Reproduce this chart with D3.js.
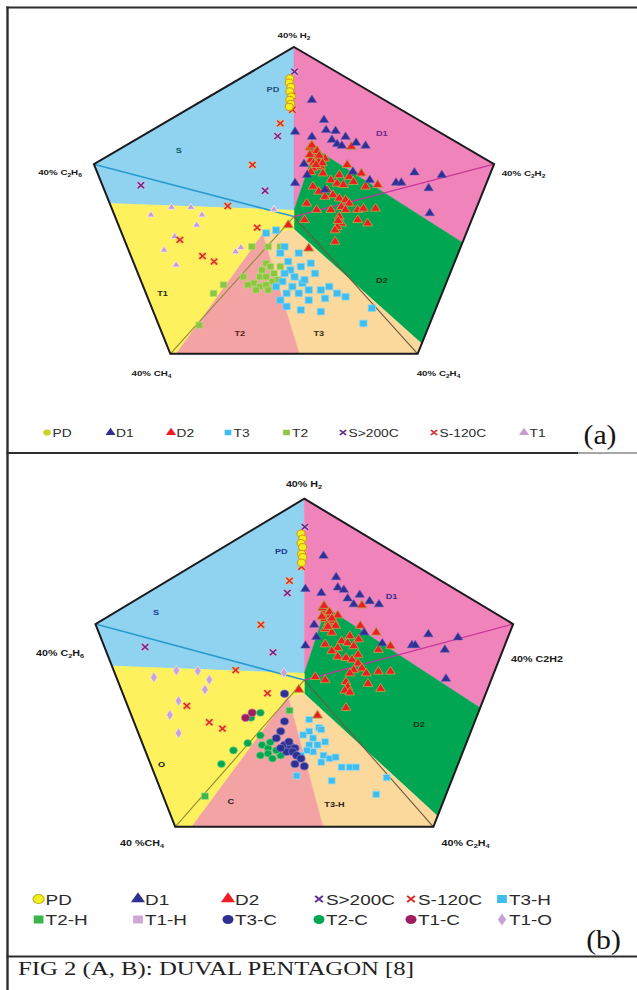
<!DOCTYPE html>
<html>
<head>
<meta charset="utf-8">
<script src="https://cdn.jsdelivr.net/npm/d3@7"></script>
<style>
  html, body { margin: 0; padding: 0; background: #fff; }
  svg { display: block; }
</style>
</head>
<body>
<svg id="fig" width="637" height="990"></svg>
<script>
// ---------------------------------------------------------------
// Duval pentagon geometry (pentagon units, H2 apex at (0,40))
// ---------------------------------------------------------------
const gasLabelsA = ["40% H_2", "40% C_2H_2", "40% C_2H_4", "40% CH_4", "40% C_2H_6"];
const gasLabelsB = ["40% H_2", "40% C2H2", "40% C_2H_4", "40 %CH_4", "40% C_2H_6"];
const vertices = [[0, 40], [38.04, 12.36], [23.51, -32.36], [-23.51, -32.36], [-38.04, 12.36]];

// Pentagon 1 zones
const zoneS  = [[0, 1.5], [-35, 3.1], [-38.04, 12.36], [0, 40]];
const zoneD1 = [[0, 40], [38.04, 12.36], [32, -6.1], [4, 16], [0, 1.5]];
const zoneD2 = [[4, 16], [32, -6.1], [24.3, -30], [0, -3], [0, 1.5]];
const zoneT3 = [[0, -3], [24.3, -30], [23.51, -32.36], [1, -32.36], [-6, -4]];
const zoneT2 = [[-6, -4], [1, -32.36], [-22.5, -32.36]];
const zoneT1 = [[-6, -4], [-22.5, -32.36], [-23.51, -32.36], [-35, 3.1], [0, 1.5], [0, -3]];
// Pentagon 2 zones (S, D1, D2 shared)
const zoneT3H = [[0, -3], [24.3, -30], [23.51, -32.36], [3.4, -32.36], [-3, -3.5]];
const zoneC   = [[-3, -3.5], [3.4, -32.36], [-20.6, -32.36]];
const zoneO   = [[-3, -3.5], [-20.6, -32.36], [-23.51, -32.36], [-35, 3.1], [0, 1.5], [0, -3]];

const zoneNamesA = ["PD", "S", "D1", "D2", "T1", "T2", "T3"];
const zoneLabelPosA = [[-4.0, 30.0], [-21.9, 15.7], [16.7, 19.6], [16.7, -15.1], [-25.0, -18.1], [-10.3, -27.5], [4.7, -27.5]];
const zoneNamesB = ["PD", "S", "D1", "D2", "O", "C", "T3-H"];
const zoneLabelPosB = [[-4.2, 28.4], [-27.0, 14.9], [15.9, 18.4], [20.9, -9.8], [-26.0, -18.5], [-13.4, -26.8], [5.5, -27.5]];

// ---------------------------------------------------------------
// Fault cases, pentagon (a)
// ---------------------------------------------------------------
const pdA = [[-0.8, 32.6], [-0.9, 31.6], [-0.6, 30.6], [-0.8, 29.5], [-0.5, 28.3], [-0.8, 27.5], [-0.6, 26.6], [-0.9, 25.9]];
const d1A = [[3.4, 27.5], [5.7, 22.8], [6.1, 20.4], [7.9, 20.2], [9.8, 18.8], [11.8, 17.4], [13.6, 16.7], [7.2, 18.1],
  [8.2, 17.1], [9.1, 16.7], [3.4, 18.8], [0.2, 20.0], [1.9, 12.4], [2.5, 9.8], [0.2, 7.9], [11.2, 10.6], [14.4, 8.6],
  [19.4, 8.0], [20.4, 8.0], [22.9, 10.4], [28.1, 9.8], [25.6, 6.7], [25.8, 0.8], [5.9, 6.3]];
const d2A = [[10.9, 16.5], [3.6, 15.7], [4.0, 14.9], [4.3, 14.1], [3.2, 13.4], [3.7, 12.6], [4.7, 13.0], [5.1, 11.8],
  [3.6, 11.4], [5.9, 13.7], [5.5, 10.2], [3.0, 16.3], [3.4, 16.8], [4.4, 15.5], [3.0, 14.6], [4.8, 14.4], [5.4, 12.6],
  [4.2, 12.2], [3.2, 10.5], [10.1, 12.2], [12.8, 10.2], [8.6, 9.8], [10.5, 9.4], [7.0, 8.6], [8.2, 7.8], [9.4, 7.5],
  [6.3, 6.3], [3.6, 7.1], [4.7, 5.9], [5.9, 4.7], [7.4, 5.1], [8.6, 4.3], [9.8, 3.9], [10.5, 3.1], [9.0, 2.3],
  [9.8, 1.6], [12.1, 1.6], [13.2, 1.9], [15.5, 1.9], [2.4, 3.1], [4.3, 1.6], [7.0, 1.6], [8.6, 0.0], [9.0, -1.6],
  [8.2, -2.4], [7.8, -3.2], [8.4, -1.0], [12.1, -0.8], [14.0, -1.6], [2.0, -0.8], [-1.1, -2.0], [7.8, -5.9],
  [2.8, -7.5], [11.3, 8.2], [13.6, 7.1], [15.9, 7.5]];
const t3A = [[-5.3, -3.9], [-3.4, -3.2], [-1.8, -7.1], [0.9, -8.6], [3.2, -11.0], [1.3, -11.8], [-0.7, -12.6],
  [-1.8, -13.4], [0.1, -14.2], [-2.2, -15.3], [-3.4, -16.5], [-0.3, -16.5], [1.6, -15.7], [2.8, -17.3], [0.9, -18.1],
  [5.1, -17.3], [6.7, -16.5], [8.2, -18.1], [9.8, -18.9], [5.9, -19.3], [2.8, -19.7], [-1.4, -21.2], [1.3, -22.0],
  [5.1, -22.4], [14.8, -21.6], [13.2, -25.2], [-1.4, -18.1], [-2.6, -19.7], [4.0, -13.4], [2.0, -14.9],
  [-1.1, -10.6], [-2.6, -8.6]];
const t2A = [[-8.0, -7.1], [-4.9, -7.1], [-2.6, -7.1], [-5.3, -11.0], [-4.5, -11.8], [-6.5, -14.2], [-7.6, -15.7],
  [-6.5, -16.5], [-5.3, -16.1], [-4.1, -15.3], [-3.0, -14.9], [-4.9, -17.3], [-7.2, -17.3], [-9.6, -14.2],
  [-13.4, -16.1], [-15.3, -18.1], [-18.0, -25.6], [-2.6, -11.8], [-3.8, -13.4], [-6.1, -12.6], [-8.8, -16.1],
  [-5.3, -14.2]];
const sHotA = [[0.1, 34.2], [-3.1, 19.0], [-5.5, 6.1], [-29.1, 7.4]];
const sColdA = [[-2.6, 22.0], [-7.9, 12.2], [-12.6, 2.5], [-7.0, -2.6], [-21.7, -5.5], [-17.4, -9.3], [-15.2, -10.6],
  [-0.4, 28.5], [-0.3, 25.2]];
const t1A = [[-27.2, 0.4], [-23.3, 2.2], [-19.6, 2.2], [-17.5, 0.4], [-18.5, -2.0], [-22.7, -4.7], [-24.7, -7.9],
  [-22.4, -11.4], [-11.1, -8.3], [-10.1, -7.3], [-3.8, 1.7]];

// ---------------------------------------------------------------
// Fault cases, pentagon (b)
// ---------------------------------------------------------------
const pdB = [[-0.6, 32.3], [-0.3, 31.2], [-0.6, 30.2], [-0.3, 29.3], [-0.5, 27.8], [-0.3, 27.1], [-0.5, 25.9]];
const d1B = [[3.5, 27.4], [5.8, 22.7], [6.1, 20.4], [7.2, 19.9], [10.1, 18.8], [7.9, 18.0], [9.0, 16.7], [11.9, 17.4],
  [13.6, 16.7], [3.1, 19.2], [0.2, 20.1], [1.8, 12.2], [2.2, 9.5], [0.2, 7.6], [10.9, 10.5], [14.2, 8.1], [19.6, 7.7],
  [20.2, 7.7], [22.6, 10.1], [28.0, 9.4], [25.6, 6.7], [25.8, 0.3]];
const d2B = [[10.5, 16.5], [3.8, 15.4], [4.2, 14.6], [4.7, 14.3], [3.7, 13.5], [4.4, 12.7], [5.3, 13.1], [5.7, 12.0],
  [3.8, 11.3], [6.1, 14.3], [5.0, 10.5], [3.3, 15.9], [3.6, 16.4], [4.6, 15.0], [3.2, 14.0], [5.0, 13.6], [4.3, 11.8],
  [10.2, 12.0], [13.1, 10.5], [8.3, 9.7], [9.9, 9.0], [6.8, 8.6], [7.9, 8.2], [9.0, 7.5], [6.1, 7.1], [3.8, 7.9],
  [5.0, 6.4], [6.1, 5.2], [7.6, 4.9], [8.7, 4.5], [9.8, 3.7], [10.5, 2.6], [9.0, 2.2], [8.3, 1.5], [11.3, 1.5],
  [13.5, 1.9], [15.7, 1.9], [2.0, 0.7], [3.8, 0.0], [7.6, -0.4], [7.9, -1.5], [7.4, -2.3], [8.3, -2.7], [11.6, -0.8],
  [13.9, -1.9], [-1.0, -2.1], [7.6, -6.1], [2.4, -7.8], [15.7, 7.5], [13.5, 6.7], [9.8, 5.6]];
const t3hB = [[0.9, -8.7], [2.7, -10.5], [0.9, -11.3], [3.1, -10.9], [-0.2, -12.1], [1.6, -12.8], [0.9, -14.3],
  [2.4, -14.3], [3.8, -13.6], [1.6, -15.8], [3.5, -16.6], [4.6, -17.3], [5.7, -17.0], [6.8, -19.2], [8.3, -19.2],
  [9.4, -19.2], [3.1, -18.1], [-1.4, -21.1], [5.0, -22.2], [13.1, -25.2], [15.0, -21.5], [0.5, -15.5], [-0.6, -16.6]];
const t3cB = [[-3.6, -3.0], [-3.6, -9.1], [-4.3, -11.3], [-5.1, -12.8], [-3.6, -14.3], [-2.5, -14.6], [-1.7, -15.0],
  [-3.2, -15.8], [-2.1, -15.8], [-4.3, -15.0], [-1.4, -16.6], [-0.6, -17.3], [-1.7, -18.5], [0.0, -19.0], [-2.8, -13.6]];
const t2cB = [[-8.0, -7.2], [-9.7, -8.3], [-10.3, -13.9], [-7.7, -14.3], [-6.6, -15.0], [-6.6, -16.2], [-8.0, -16.6],
  [-5.8, -17.3], [-4.3, -16.6], [-5.1, -15.5], [-12.9, -15.5], [-15.1, -18.5], [-8.0, -12.2], [-6.2, -13.7]];
const t2hB = [[-18.1, -25.6], [-2.7, -6.7]];
const t1hB = [];
const t1cB = [[-10.7, -8.3], [-9.5, -7.2]];
const t1oB = [[-27.4, 0.6], [-23.3, 2.1], [-19.4, 2.0], [-17.3, 0.1], [-18.1, -2.1], [-22.9, -4.6], [-24.5, -7.7],
  [-22.9, -11.7], [-3.7, 1.6]];
const sHotB = [[0.1, 33.8], [-3.1, 19.2], [-5.7, 6.1], [-29.0, 7.3]];
const sColdB = [[-2.7, 21.9], [-7.9, 12.2], [-12.5, 2.2], [-6.7, -2.9], [-21.4, -5.7], [-17.3, -9.3], [-14.9, -10.7],
  [-0.3, 28.5], [-0.5, 25.0]];

// legend entries
const legendNamesA = ["PD", "D1", "D2", "T3", "T2", "S>200C", "S-120C", "T1"];
const legendNamesB = [["PD", "D1", "D2", "S>200C", "S-120C", "T3-H"], ["T2-H", "T1-H", "T3-C", "T2-C", "T1-C", "T1-O"]];

// ---------------------------------------------------------------
// Styles
// ---------------------------------------------------------------
const STRETCH = 1.22;
const SANS = "'Liberation Sans', Arial, sans-serif";
const SERIF = "'Liberation Serif', 'Times New Roman', serif";

const zoneFill = { S: "#90d3f1", D1: "#ef83ba", D2: "#00a651", T3: "#fbd99d", T2: "#f4a3a4", T1: "#fdf15e",
  "T3-H": "#fbd99d", C: "#f4a3a4", O: "#fdf15e" };
const zoneLabelColor = { PD: "#1d4f78", S: "#0b5c66", D1: "#6b2a8a", D2: "#17361c", T1: "#2b2b10", T2: "#5c1f1f",
  T3: "#3d2f16", O: "#111", C: "#222", "T3-H": "#2a2216" };
const zoneLabelColorB = Object.assign({}, zoneLabelColor, { PD: "#1b3b8c", S: "#1b3b9c", D1: "#3b2a8c" });

const markerStyle = {
  "PD":     { shape: "circle",   size: 42, fill: "#f3ef1f", stroke: "#d49a12", sw: 1.0 },
  "D1":     { shape: "triangle", size: 32, fill: "#2e3192", stroke: "#5a5ab8", sw: 0.5 },
  "D2":     { shape: "triangle", size: 36, fill: "#ee1c25", stroke: "#b5a043", sw: 0.9 },
  "T3":     { shape: "square",   size: 44, fill: "#3ebdee", stroke: "#8ad6f3", sw: 0.7 },
  "T2":     { shape: "square",   size: 38, fill: "#8cc63e", stroke: "#b8dc80", sw: 0.7 },
  "S>200C": { shape: "x",        size: 34, fill: "none", stroke: "#5b2c8e", halo: "#f3aacb", sw: 1.4 },
  "S-120C": { shape: "x",        size: 34, fill: "none", stroke: "#d92a2a", halo: "#f5b763", sw: 1.4 },
  "T1":     { shape: "triangle", size: 21, fill: "#c99ad2", stroke: "#f3e7f3", sw: 0.8 },
  "T3-H":   { shape: "square",   size: 40, fill: "#3ebdee", stroke: "#9bdcf5", sw: 0.7 },
  "T2-H":   { shape: "square",   size: 42, fill: "#3db54a", stroke: "#9fd89a", sw: 0.7 },
  "T1-H":   { shape: "square",   size: 42, fill: "#cfa6d6", stroke: "#efdcf0", sw: 0.7 },
  "T3-C":   { shape: "circle",   size: 44, fill: "#2e3192", stroke: "#8080c8", sw: 0.7 },
  "T2-C":   { shape: "circle",   size: 40, fill: "#00a651", stroke: "#7ccf7c", sw: 0.7 },
  "T1-C":   { shape: "circle",   size: 44, fill: "#9e1f5f", stroke: "#d07aa0", sw: 0.7 },
  "T1-O":   { shape: "diamond",  size: 32, fill: "#c7a1d8", stroke: "#f1e4f4", sw: 0.7 }
};
const legendMarkerA = Object.assign({}, markerStyle, { PD: { shape: "circle", size: 30, fill: "#c6d32b", stroke: "#e4e890", sw: 0.6 } });

const axisStyle = [
  { v: 4, color: "#2b9bcf", w: 1.6 },
  { v: 1, color: "#c9369b", w: 1.3 },
  { v: 3, color: "#8d8a32", w: 1.1 },
  { v: 2, color: "#6e5a3c", w: 1.1 }
];

const svg = d3.select("#fig");

// ---------------------------------------------------------------
// Helpers
// ---------------------------------------------------------------
function stretchedText(g, x, y, str, o) {
  const t = g.append("text")
    .attr("transform", `translate(${x},${y}) scale(${o.stretch || STRETCH},1)`)
    .attr("text-anchor", o.anchor || "middle")
    .attr("font-family", o.family || SANS)
    .attr("font-size", o.size)
    .attr("font-weight", o.weight || "normal")
    .attr("fill", o.color || "#000");
  // "_" marks the next character as a subscript
  let i = 0, inSub = false;
  while (i < str.length) {
    let chunk = "", sub = false;
    if (str[i] === "_") { sub = true; chunk = str[i + 1]; i += 2; }
    else { while (i < str.length && str[i] !== "_") { chunk += str[i]; i++; } }
    const ts = t.append("tspan").text(chunk);
    if (sub) {
      ts.attr("font-size", o.size * 0.68).attr("dy", inSub ? 0 : o.size * 0.28);
      inSub = true;
    } else if (inSub) {
      ts.attr("dy", -o.size * 0.28);
      inSub = false;
    }
  }
  return t;
}

function markerPath(shape, size) {
  if (shape === "x") {
    const a = Math.sqrt(size) / 2;
    return `M${-a},${-a}L${a},${a}M${-a},${a}L${a},${-a}`;
  }
  const types = { circle: d3.symbolCircle, triangle: d3.symbolTriangle, square: d3.symbolSquare, diamond: d3.symbolDiamond };
  return d3.symbol(types[shape], size)();
}

function drawMarkers(g, pts, st, px, py, scale = 1) {
  const sel = g.append("g").selectAll("g").data(pts).join("g")
    .attr("transform", d => `translate(${px(d[0])},${py(d[1])}) scale(${STRETCH * 0.9 * scale},${scale})`);
  const d = markerPath(st.shape, st.size);
  if (st.shape === "x") {
    sel.append("path").attr("d", d).attr("fill", "none").attr("stroke", st.halo).attr("stroke-width", st.sw + 2.2).attr("stroke-opacity", 0.75);
    sel.append("path").attr("d", d).attr("fill", "none").attr("stroke", st.stroke).attr("stroke-width", st.sw);
  } else {
    sel.append("path").attr("d", d).attr("fill", st.fill).attr("stroke", st.stroke).attr("stroke-width", st.sw);
  }
}

// ---------------------------------------------------------------
// One pentagon panel
// ---------------------------------------------------------------
function drawPentagon(cfg) {
  const g = svg.append("g");
  const px = d3.scaleLinear().domain([-40, 40]).range([cfg.cx - 40 * cfg.sx, cfg.cx + 40 * cfg.sx]);
  const py = d3.scaleLinear().domain([-40, 40]).range([cfg.cy + 40 * cfg.sy, cfg.cy - 40 * cfg.sy]);
  const line = d3.line().x(d => px(d[0])).y(d => py(d[1]));

  // zones
  cfg.zones.forEach(z => {
    g.append("path").attr("d", line(z.pts) + "Z").attr("fill", zoneFill[z.name])
      .attr("stroke", zoneFill[z.name]).attr("stroke-width", 0.5);
  });

  // centre-to-vertex axes
  axisStyle.forEach(a => {
    g.append("path").attr("d", line([[0, 0], vertices[a.v]])).attr("stroke", a.color)
      .attr("stroke-width", a.w).attr("fill", "none");
  });

  // outline
  g.append("path").attr("d", line(vertices) + "Z").attr("fill", "none")
    .attr("stroke", "#1c1a1e").attr("stroke-width", 2).attr("stroke-linejoin", "miter");

  // points
  cfg.series.forEach(s => drawMarkers(g, s.pts, markerStyle[s.name], px, py));

  // zone labels
  cfg.zoneNames.forEach((n, i) => {
    const p = cfg.zonePos[i];
    stretchedText(g, px(p[0]), py(p[1]) + 2.6, n, { size: 7.5, weight: "bold", color: cfg.zoneColor[n] });
  });

  // gas labels at the vertices
  cfg.gasPos.forEach((p, i) => {
    stretchedText(g, p[0], p[1], cfg.gasLabels[i], { size: cfg.gasSize, weight: "bold", color: "#1a1a1a" });
  });
}

// ---------------------------------------------------------------
// Panel (a): Duval pentagon 1
// ---------------------------------------------------------------
drawPentagon({
  cx: 294, cy: 216.6, sx: 5.26, sy: 4.24,
  zones: [{ name: "S", pts: zoneS }, { name: "D1", pts: zoneD1 }, { name: "D2", pts: zoneD2 },
          { name: "T3", pts: zoneT3 }, { name: "T2", pts: zoneT2 }, { name: "T1", pts: zoneT1 }],
  series: [{ name: "T2", pts: t2A }, { name: "T3", pts: t3A }, { name: "T1", pts: t1A }, { name: "D2", pts: d2A },
           { name: "D1", pts: d1A }, { name: "S>200C", pts: sHotA }, { name: "S-120C", pts: sColdA },
           { name: "PD", pts: pdA }],
  zoneNames: zoneNamesA, zonePos: zoneLabelPosA, zoneColor: zoneLabelColor,
  gasLabels: gasLabelsA, gasSize: 8,
  gasPos: [[294, 37.5], [523.5, 175.5], [438.5, 375.5], [151.5, 375.5], [60, 174.5]]
});

// ---------------------------------------------------------------
// Panel (b): Duval pentagon 2
// ---------------------------------------------------------------
drawPentagon({
  cx: 304.3, cy: 680.1, sx: 5.49, sy: 4.535,
  zones: [{ name: "S", pts: zoneS }, { name: "D1", pts: zoneD1 }, { name: "D2", pts: zoneD2 },
          { name: "T3-H", pts: zoneT3H }, { name: "C", pts: zoneC }, { name: "O", pts: zoneO }],
  series: [{ name: "T3-H", pts: t3hB }, { name: "T2-C", pts: t2cB }, { name: "T2-H", pts: t2hB },
           { name: "T1-H", pts: t1hB }, { name: "T3-C", pts: t3cB }, { name: "T1-C", pts: t1cB },
           { name: "T1-O", pts: t1oB }, { name: "D2", pts: d2B }, { name: "D1", pts: d1B },
           { name: "S>200C", pts: sHotB }, { name: "S-120C", pts: sColdB }, { name: "PD", pts: pdB }],
  zoneNames: zoneNamesB, zonePos: zoneLabelPosB, zoneColor: zoneLabelColorB,
  gasLabels: gasLabelsB, gasSize: 8.8,
  gasPos: [[304, 487], [537, 661.5], [465.5, 845.5], [142, 845.5], [60, 656]]
});

// ---------------------------------------------------------------
// Legends
// ---------------------------------------------------------------
const legA = svg.append("g");
const legAX = [47, 110.5, 171, 228, 286.5, 343, 434, 524];
legendNamesA.forEach((n, i) => {
  const st = legendMarkerA[n];
  const x = legAX[i];
  const gm = legA.append("g").attr("transform", `translate(${x},432.5) scale(${STRETCH},1)`);
  if (st.shape === "x") {
    gm.append("path").attr("d", markerPath("x", 26)).attr("fill", "none").attr("stroke", st.stroke).attr("stroke-width", 1.5);
  } else {
    gm.append("path").attr("d", markerPath(st.shape, 30)).attr("fill", st.fill).attr("stroke", "none");
  }
  stretchedText(legA, x + 5.5, 436.5, n, { size: 11.3, anchor: "start", color: "#2a2a2a" });
});

const legB = svg.append("g");
const legBX = [38.6, 138, 228, 319, 411, 502];
const legBY = [899, 919.5];
legendNamesB.forEach((row, r) => {
  row.forEach((n, i) => {
    const st = markerStyle[n];
    const x = legBX[i], y = legBY[r];
    const gm = legB.append("g").attr("transform", `translate(${x},${y}) scale(${STRETCH},1)`);
    if (st.shape === "x") {
      gm.append("path").attr("d", markerPath("x", 40)).attr("fill", "none").attr("stroke", st.stroke).attr("stroke-width", 1.7);
    } else {
      const big = st.shape === "diamond" ? 40 : st.shape === "triangle" ? 58 : 64;
      gm.append("path").attr("d", markerPath(st.shape, big)).attr("fill", st.fill)
        .attr("stroke", n === "PD" ? "#b9b21a" : "none").attr("stroke-width", 0.9);
    }
    stretchedText(legB, x + 7, y + 5.6, n, { size: 15.5, anchor: "start", color: "#2a2a2a" });
  });
});

// ---------------------------------------------------------------
// Frame, panel tags and caption
// ---------------------------------------------------------------
const frame = svg.append("g").attr("fill", "none");
frame.append("line").attr("x1", 7.5).attr("x2", 7.5).attr("y1", 6.5).attr("y2", 990).attr("stroke", "#2d2d2d").attr("stroke-width", 2.4);
frame.append("line").attr("x1", 6.5).attr("x2", 637).attr("y1", 7.5).attr("y2", 7.5).attr("stroke", "#2d2d2d").attr("stroke-width", 2);
frame.append("line").attr("x1", 6.5).attr("x2", 578).attr("y1", 453).attr("y2", 453).attr("stroke", "#2d2d2d").attr("stroke-width", 2.2);
frame.append("line").attr("x1", 578).attr("x2", 637).attr("y1", 453).attr("y2", 453).attr("stroke", "#8a8a8a").attr("stroke-width", 1.4);
frame.append("line").attr("x1", 6.5).attr("x2", 637).attr("y1", 956.5).attr("y2", 956.5).attr("stroke", "#2d2d2d").attr("stroke-width", 2.2);

stretchedText(svg, 600, 443.5, "(a)", { size: 27, family: SERIF, color: "#141414", stretch: 1.1 });
stretchedText(svg, 603.5, 949, "(b)", { size: 27, family: SERIF, color: "#141414", stretch: 1.1 });
stretchedText(svg, 18, 974.5, "FIG 2 (A, B): DUVAL PENTAGON [8]", { size: 19.5, family: SERIF, anchor: "start", color: "#1e1e1e", stretch: 1.27 });
</script>
</body>
</html>
